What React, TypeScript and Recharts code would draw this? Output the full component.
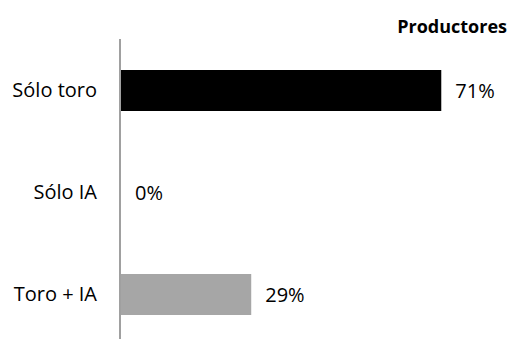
import React from "react";
import { BarChart, Bar, XAxis, YAxis, Cell, LabelList } from "recharts";

const categories = ["Sólo toro", "Sólo IA", "Toro + IA"];
const values = [71, 0, 29];
const colors = ["#000000", "#000000", "#a6a6a6"];
const title = "Productores";

const data = categories.map((c, i) => ({ name: c, value: values[i] }));

const FONT = "'Open Sans', 'Noto Sans', sans-serif";

export default function App() {
  return (
    <div
      style={{
        position: "relative",
        width: 499,
        height: 331,
        fontFamily: FONT,
      }}
    >
      <div style={{ position: "absolute", left: 0, top: 0, width: 499, height: 331, overflow: "hidden" }}>
        <BarChart
          width={499}
          height={340}
          data={data}
          layout="vertical"
          margin={{ top: 31, right: 25, bottom: 3, left: 0 }}
          barSize={41}
        >
          <XAxis type="number" domain={[0, 80]} hide />
          <YAxis
            type="category"
            dataKey="name"
            width={112}
            tickLine={false}
            tickMargin={17}
            axisLine={{ stroke: "#a0a0a0", strokeWidth: 2 }}
            tick={{ fill: "#000", fontSize: 20, fontFamily: FONT }}
          />
          <Bar dataKey="value" isAnimationActive={false} minPointSize={1}>
            {data.map((d, i) => (
              <Cell key={d.name} fill={d.value === 0 ? "none" : colors[i]} />
            ))}
            <LabelList
              dataKey="value"
              position="right"
              offset={14}
              formatter={(v: number) => `${v}%`}
              style={{ fill: "#000", fontSize: 20, fontFamily: FONT }}
            />
          </Bar>
        </BarChart>
      </div>
      <div
        style={{
          position: "absolute",
          right: 0,
          top: 5,
          fontSize: 18,
          fontWeight: 700,
          color: "#000",
          fontFamily: FONT,
          lineHeight: "26px",
          whiteSpace: "nowrap",
        }}
      >
        {title}
      </div>
    </div>
  );
}
